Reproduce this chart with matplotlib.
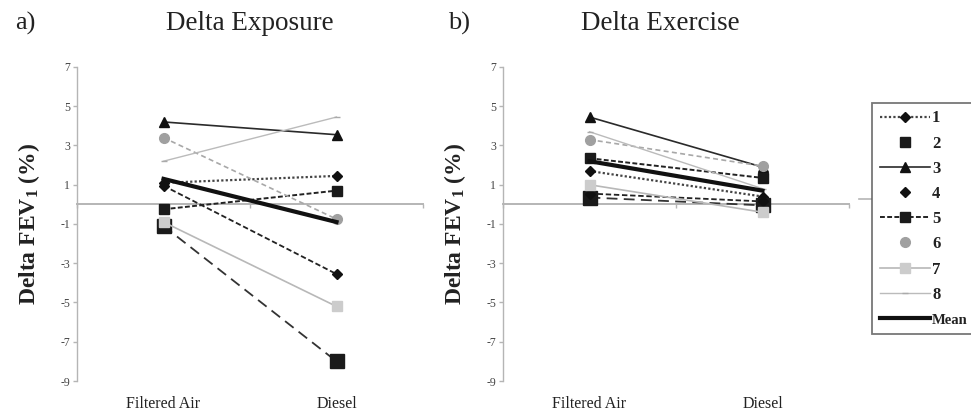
import matplotlib
matplotlib.use("Agg")
import matplotlib.pyplot as plt
from matplotlib.lines import Line2D
from matplotlib.transforms import blended_transform_factory

plt.rcParams['font.family'] = ['Liberation Serif', 'DejaVu Serif']
plt.rcParams['mathtext.fontset'] = 'custom'
plt.rcParams['mathtext.rm'] = 'Liberation Serif:bold'
plt.rcParams['mathtext.it'] = 'Liberation Serif:bold'
plt.rcParams['mathtext.bf'] = 'Liberation Serif:bold'

categories = ["Filtered Air", "Diesel"]
series_names = ["1", "2", "3", "4", "5", "6", "7", "8", "Mean"]

exposure = {
    "1": [1.10, 1.45],
    "2": [-1.10, -8.00],
    "3": [4.20, 3.55],
    "4": [0.95, -3.55],
    "5": [-0.25, 0.70],
    "6": [3.40, -0.75],
    "7": [-0.90, -5.20],
    "8": [2.20, 4.45],
    "Mean": [1.30, -0.90],
}
exercise = {
    "1": [1.70, 0.40],
    "2": [0.35, -0.05],
    "3": [4.45, 1.90],
    "4": [0.55, 0.15],
    "5": [2.35, 1.35],
    "6": [3.30, 1.95],
    "7": [1.00, -0.40],
    "8": [3.70, 0.80],
    "Mean": [2.20, 0.70],
}
yticks = [7, 5, 3, 1, -1, -3, -5, -7, -9]

styles = {
    "1": dict(color="#444444", lw=1.6, ls=(0, (1, 1)), marker="D", ms=5.5, mfc="#111111", mec="#111111"),
    "2": dict(color="#333333", lw=1.3, ls=(0, (6, 3.5)), marker="s", ms=10.5, mfc="#1a1a1a", mec="#1a1a1a"),
    "3": dict(color="#2a2a2a", lw=1.2, ls="-", marker="^", ms=6.5, mfc="#111111", mec="#111111"),
    "4": dict(color="#222222", lw=1.3, ls=(0, (3, 1.5)), marker="D", ms=5, mfc="#111111", mec="#111111"),
    "5": dict(color="#222222", lw=1.4, ls=(0, (2.5, 1.2)), marker="s", ms=6.5, mfc="#1a1a1a", mec="#1a1a1a"),
    "6": dict(color="#a8a8a8", lw=1.2, ls=(0, (3, 2)), marker="o", ms=7, mfc="#a0a0a0", mec="#a0a0a0"),
    "7": dict(color="#b8b8b8", lw=1.2, ls="-", marker="s", ms=7, mfc="#cccccc", mec="#cccccc"),
    "8": dict(color="#bbbbbb", lw=1.0, ls="-", marker="_", ms=5, mfc="#aaaaaa", mec="#aaaaaa"),
    "Mean": dict(color="#111111", lw=3.0, ls="-", marker=None),
}

fig = plt.figure(figsize=(9.71, 4.11), dpi=100)
W, H = 971, 411
axA = fig.add_axes([77 / W, 1 - 381 / H, 346 / W, 314 / H])
axB = fig.add_axes([503 / W, 1 - 381 / H, 346 / W, 314 / H])

xpos = [i + 0.5 for i in range(len(categories))]

for ax, data in [(axA, exposure), (axB, exercise)]:
    ax.set_xlim(0, len(categories))
    ax.set_ylim(-9, 7)
    for name in series_names:
        st = styles[name]
        ax.plot(xpos, data[name], color=st["color"], lw=st["lw"], ls=st["ls"],
                marker=st["marker"], ms=st.get("ms", 0), mfc=st.get("mfc"),
                mec=st.get("mec"), zorder=5 if name == "Mean" else 3)
    for s in ["top", "right"]:
        ax.spines[s].set_visible(False)
    ax.spines["left"].set_color("#b5b5b5")
    ax.spines["left"].set_linewidth(1.0)
    ax.spines["bottom"].set_position(("data", 0))
    ax.spines["bottom"].set_color("#b5b5b5")
    ax.spines["bottom"].set_linewidth(1.4)
    ax.spines["bottom"].set_zorder(1)
    ax.set_xticks([0, 1, 2])
    ax.set_xticklabels([])
    ax.tick_params(axis="x", direction="out", length=3, color="#b5b5b5", width=1)
    ax.set_yticks(yticks)
    ax.set_yticklabels([str(v) for v in yticks])
    ax.tick_params(axis="y", direction="out", length=3, color="#b5b5b5", width=1,
                   labelsize=8.5, labelcolor="#444444", pad=2)
    trans = blended_transform_factory(ax.transData, ax.transAxes)
    for xp, cat in zip(xpos, categories):
        ax.text(xp, -0.072, cat, transform=trans, ha="center", va="center",
                fontsize=11.5, color="#222222")
    ax.set_ylabel("Delta FEV$_1$ (%)", fontsize=17, fontweight="bold",
                  color="#222222", labelpad=13)
    ax.patch.set_visible(False)

fig.text(15 / W, 1 - 23 / H, "a)", fontsize=19, ha="left", va="center", color="#222222")
fig.text(250 / W, 1 - 23 / H, "Delta Exposure", fontsize=19.5, ha="center", va="center", color="#222222")
fig.text(448 / W, 1 - 23 / H, "b)", fontsize=19, ha="left", va="center", color="#222222")
fig.text(660 / W, 1 - 23 / H, "Delta Exercise", fontsize=19.5, ha="center", va="center", color="#222222")

handles = []
for name in series_names:
    st = styles[name]
    ls = st["ls"]
    if name in ("2", "4", "6"):
        ls = "none"
    handles.append(Line2D([], [], color=st["color"], lw=st["lw"], ls=ls,
                          marker=st["marker"], ms=min(st.get("ms", 0), 7) if st["marker"] else 0,
                          mfc=st.get("mfc"), mec=st.get("mec")))

leg = fig.legend(handles, series_names, loc="upper left",
                 bbox_to_anchor=(872 / W, 1 - 103 / H), frameon=True, fancybox=False,
                 fontsize=12, handlelength=3.0, handletextpad=0.15, labelspacing=0.55,
                 borderpad=0.45, borderaxespad=0)
leg.get_frame().set_edgecolor("#555555")
leg.get_frame().set_linewidth(1.3)
for t in leg.get_texts():
    t.set_fontweight("bold")
    t.set_color("#222222")
leg.get_texts()[-1].set_fontsize(10.5)

fig.add_artist(Line2D([859 / W, 871 / W], [1 - 199 / H, 1 - 199 / H],
                      transform=fig.transFigure, color="#b5b5b5", lw=1.2))

fig.savefig("out.png", dpi=100)
